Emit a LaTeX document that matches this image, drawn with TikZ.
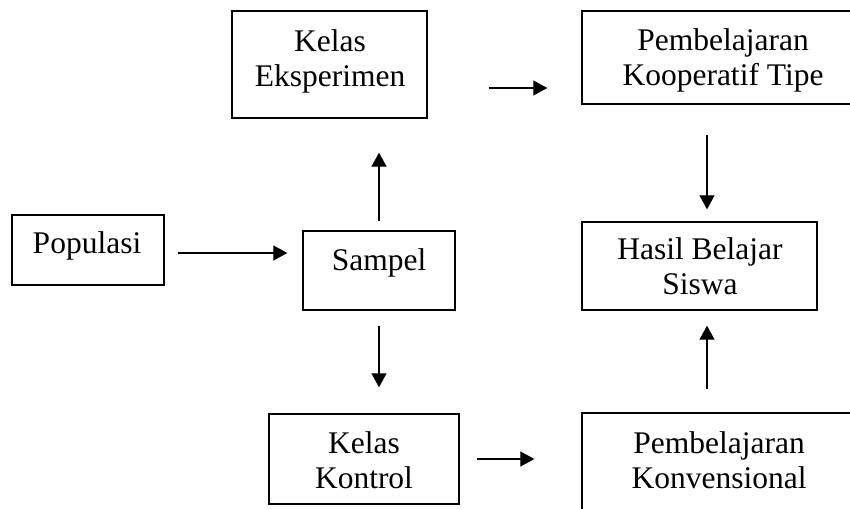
\documentclass[tikz,border=0pt]{standalone}
\usepackage{fontspec}
\setmainfont{Liberation Serif}
\usetikzlibrary{arrows.meta,calc}
\tikzset{
  box/.style={draw=black, line width=1.4pt, rectangle, inner sep=0pt},
  txt/.style={align=center, anchor=base, inner sep=0pt, font=\fontsize{31.5}{35}\selectfont},
  arr/.style={line width=1.3pt, -{Triangle[length=14pt,width=15pt]}}
}
\begin{document}
\begin{tikzpicture}[x=1pt,y=-1pt]
\useasboundingbox (0,0) rectangle (850,508);
\clip (0,0) rectangle (850,508);
% boxes
\node[box, minimum width=152pt, minimum height=70pt] (pop) at (88,250) {};
\node[box, minimum width=152pt, minimum height=79pt] (samp) at (379,270.5) {};
\node[box, minimum width=195pt, minimum height=107pt] (ke) at (329.5,64.5) {};
\node[box, minimum width=282pt, minimum height=93pt] (koop) at (723,57.5) {};
\node[box, minimum width=235pt, minimum height=88pt] (hasil) at (699.5,266) {};
\node[box, minimum width=190pt, minimum height=90pt] (kontrol) at (364,459) {};
\node[box, minimum width=274pt, minimum height=117pt] (konv) at (719,471.5) {};
% texts (anchor = baseline of the last line)
\node[txt] (tpop) at (87,253) {Populasi};
\node[txt] (tsamp) at (379,270) {Sampel};
\node[txt] (tke) at (330,87) {Kelas\\Eksperimen};
\node[txt] (tkoop) at (723,86) {Pembelajaran\\Kooperatif Tipe};
\node[txt] (thasil) at (700,294) {Hasil Belajar\\Siswa};
\node[txt] (tkontrol) at (364,488) {Kelas\\Kontrol};
\node[txt] (tkonv) at (719,488) {Pembelajaran\\Konvensional};
% connectors
\draw[arr, shorten <=13pt, shorten >=15pt] ([yshift=-3pt]pop.east) -- ([yshift=-3pt]pop.east -| samp.west);
\draw[arr, shorten <=9pt, shorten >=34pt] (samp.north) -- (ke.south -| samp.north);
\draw[arr, shorten <=15pt, shorten >=26pt] (samp.south) -- (kontrol.north -| samp.south);
\draw[arr, shorten <=61pt, shorten >=34pt] ([yshift=-23.5pt]ke.east) -- ([yshift=-23.5pt]ke.east -| koop.west);
\draw[arr, shorten <=17pt, shorten >=47pt] (kontrol.east) -- (kontrol.east -| konv.west);
\coordinate (ax) at ([xshift=7.5pt]hasil.north);
\coordinate (bx) at ([xshift=7.5pt]hasil.south);
\draw[arr, shorten <=30pt, shorten >=12pt] (ax |- koop.south) -- (ax);
\draw[arr, shorten <=23pt, shorten >=15pt] (bx |- konv.north) -- (bx);
\end{tikzpicture}
\end{document}
